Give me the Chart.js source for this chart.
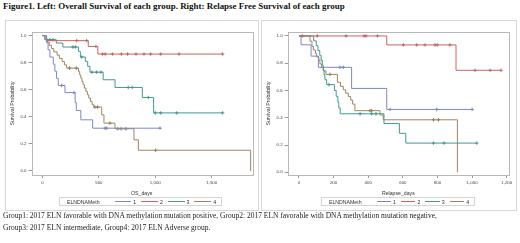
<!DOCTYPE html>
<html>
<head>
<meta charset="utf-8">
<script src="https://cdn.jsdelivr.net/npm/chart.js@4.4.1/dist/chart.umd.min.js"></script>
<style>
  body { margin: 0; background: #fff; }
  #wrap { position: relative; width: 520px; height: 243px; overflow: hidden; font-family: "Liberation Serif", "Times New Roman", serif; }
  #figTitle { position: absolute; left: 3px; top: 1px; font-weight: bold; font-size: 8.95px; white-space: nowrap; color: #111; }
  .panel { position: absolute; top: 20px; height: 191px; border: 1px solid #d8d8d8; box-sizing: border-box; }
  canvas { position: absolute; top: 20px; }
  .legend { position: absolute; top: 197px; height: 9px; border: 1px solid #d4d4d4; box-sizing: border-box;
            font-family: "Liberation Sans", Arial, sans-serif; font-size: 5.2px; color: #333; white-space: nowrap;
            display: flex; align-items: center; padding-left: 7px; }
  .legend .ttl { margin-right: 15px; }
  .legend .ln { display: inline-block; width: 17px; height: 1px; }
  .legend .nm { margin: 0 5px 0 2px; }
  .caption { position: absolute; left: 3px; font-size: 7.5px; white-space: nowrap; color: #222; }
</style>
</head>
<body>
<div id="wrap">
  <div id="figTitle">Figure1. Left: Overall Survival of each group. Right: Relapse Free Survival of each group</div>
  <div class="panel" style="left:5px;width:254px"></div>
  <div class="panel" style="left:261px;width:256px"></div>
  <canvas id="osChart" width="253" height="190" style="left:5px"></canvas>
  <canvas id="rfsChart" width="255" height="190" style="left:261px"></canvas>
  <div class="legend" id="osLegend" style="left:59px;width:163px"></div>
  <div class="legend" id="rfsLegend" style="left:321px;width:154px"></div>
  <div class="caption" style="top:211px">Group1: 2017 ELN favorable with DNA methylation mutation positive, Group2: 2017 ELN favorable with DNA methylation mutation negative,</div>
  <div class="caption" style="top:223px">Group3: 2017 ELN intermediate, Group4: 2017 ELN Adverse group.</div>
</div>
<script>
// tick labels
var osTicks = [0, 500, 1000, 1500];
var rfsTicks = [0, 200, 400, 600, 800, 1000, 1200];
var survTicks = [0, 0.2, 0.4, 0.6, 0.8, 1.0];
var groupNames = ['1', '2', '3', '4'];
var legendTitle = 'ELNDNAMeth';

// Overall survival: [days, survival] at each drop, plus censored days
var osG1 = [[0, 1], [37, 0.947], [50, 0.895], [66, 0.842], [96, 0.789], [110, 0.737], [125, 0.684], [140, 0.632], [200, 0.579], [290, 0.505], [300, 0.447], [340, 0.378], [445, 0.316]];
var osG1Cens = [170, 279, 554, 569, 1042];
var osG2 = [[0, 1], [35, 0.963], [406, 0.92], [491, 0.864]];
var osG2Cens = [304, 392, 474, 532, 556, 620, 699, 754, 829, 900, 959, 1048, 1210, 1597];
var osG3 = [[0, 1], [20, 0.97], [123, 0.945], [181, 0.916], [319, 0.884], [336, 0.842], [380, 0.81], [401, 0.773], [421, 0.73], [538, 0.674], [643, 0.617], [885, 0.543], [985, 0.429]];
var osG3Cens = [65, 94, 269, 292, 348, 439, 480, 518, 760, 795, 938, 1000, 1048, 1190, 1597];
var osG4 = [[0, 1], [30, 0.976], [45, 0.952], [60, 0.928], [80, 0.904], [100, 0.88], [130, 0.856], [150, 0.832], [175, 0.808], [195, 0.784], [215, 0.76], [320, 0.735], [330, 0.71], [340, 0.686], [350, 0.661], [360, 0.637], [372, 0.612], [385, 0.588], [398, 0.563], [410, 0.539], [425, 0.514], [440, 0.49], [455, 0.472], [525, 0.415], [545, 0.353], [643, 0.312], [811, 0.23], [850, 0.153], [1845, 0]];
var osG4Cens = [240, 300, 465, 489, 598, 668, 697, 740, 1003];

// Relapse free survival
var rfsG1 = [[0, 1], [12, 0.935], [70, 0.852], [112, 0.77], [304, 0.615], [507, 0.461]];
var rfsG1Cens = [237, 256, 526, 796, 1000];
var rfsG2 = [[0, 1], [507, 0.934], [907, 0.748]];
var rfsG2Cens = [19, 106, 272, 376, 387, 453, 603, 680, 728, 786, 799, 872, 1017, 1104, 1167];
var rfsG3 = [[0, 1], [85, 0.964], [100, 0.929], [110, 0.893], [120, 0.857], [128, 0.821], [135, 0.786], [140, 0.75], [145, 0.714], [150, 0.679], [160, 0.643], [205, 0.6], [215, 0.557], [225, 0.514], [230, 0.471], [238, 0.429], [491, 0.357], [580, 0.286], [617, 0.214]];
var rfsG3Cens = [173, 353, 420, 445, 777, 838, 1027];
var rfsG4 = [[0, 1], [64, 0.962], [75, 0.923], [83, 0.897], [95, 0.872], [102, 0.846], [115, 0.821], [121, 0.795], [131, 0.769], [141, 0.744], [156, 0.718], [222, 0.66], [240, 0.63], [256, 0.605], [270, 0.58], [285, 0.555], [299, 0.53], [310, 0.5], [323, 0.452], [468, 0.42], [487, 0.385], [915, 0]];
var rfsG4Cens = [179, 410, 420, 777, 805];

var lineColors = ['#7f88c4', '#c86462', '#3f9a8f', '#a08463'];
var markColors = ['#5a64a8', '#b04a48', '#2a7d72', '#6e5434'];

function survAt(steps, t) {
  var s = steps[0][1];
  for (var i = 0; i < steps.length; i++) {
    if (steps[i][0] <= t) s = steps[i][1];
  }
  return s;
}

function kmLine(steps, cens) {
  var pts = steps.map(function (p) { return {x: p[0], y: p[1]}; });
  var last = steps[steps.length - 1];
  var end = Math.max.apply(null, [last[0]].concat(cens));
  if (end > last[0]) pts.push({x: end, y: last[1]});
  return pts;
}

// grey frame round the plot area
var plotBox = {
  id: 'plotBox',
  afterDraw: function (chart) {
    var a = chart.chartArea, c = chart.ctx;
    c.save();
    c.strokeStyle = '#b8b8b8';
    c.lineWidth = 1;
    c.strokeRect(Math.round(a.left) + 0.5, Math.round(a.top) + 0.5, Math.round(a.right - a.left), Math.round(a.bottom - a.top));
    c.restore();
  }
};

function makeChart(id, groups, cens, xTicks, xMin, xMax, yMin, yMax, xTitle, padRight, yWidth) {
  var datasets = [];
  for (var i = 0; i < groups.length; i++) {
    datasets.push({
      type: 'line',
      label: groupNames[i],
      data: kmLine(groups[i], cens[i]),
      stepped: true,
      borderColor: lineColors[i],
      borderWidth: 1,
      pointRadius: 0,
      fill: false
    });
    datasets.push({
      type: 'scatter',
      label: groupNames[i] + ' censored',
      data: cens[i].map(function (t) { return {x: t, y: survAt(groups[i], t)}; }),
      pointStyle: 'cross',
      pointRadius: 1.7,
      borderColor: markColors[i],
      borderWidth: 0.8,
      showLine: false
    });
  }

  return new Chart(document.getElementById(id), {
    type: 'scatter',
    data: {datasets: datasets},
    options: {
      responsive: false,
      animation: false,
      devicePixelRatio: 1,
      layout: {padding: {left: 0, right: padRight, top: 12, bottom: 13}},
      plugins: {legend: {display: false}, tooltip: {enabled: false}},
      scales: {
        x: {
          type: 'linear',
          min: xMin,
          max: xMax,
          afterBuildTicks: function (s) { s.ticks = xTicks.map(function (v) { return {value: v}; }); },
          afterFit: function (s) { s.height = 22; },
          grid: {drawOnChartArea: false, drawTicks: true, tickLength: 3, color: '#999'},
          border: {display: false},
          ticks: {font: {size: 4.4, family: 'Liberation Sans'}, color: '#444', padding: 2, maxRotation: 0},
          title: {display: true, text: xTitle, font: {size: 5.2, family: 'Liberation Sans'}, color: '#333', padding: {top: 2, bottom: 0}}
        },
        y: {
          type: 'linear',
          min: yMin,
          max: yMax,
          afterBuildTicks: function (s) { s.ticks = survTicks.map(function (v) { return {value: v}; }); },
          afterFit: function (s) { s.width = yWidth; },
          grid: {drawOnChartArea: false, drawTicks: true, tickLength: 3, color: '#999'},
          border: {display: false},
          ticks: {font: {size: 4.4, family: 'Liberation Sans'}, color: '#444', padding: 2, callback: function (v) { return v.toFixed(1); }},
          title: {display: true, text: 'Survival Probability', font: {size: 5.2, family: 'Liberation Sans'}, color: '#333', padding: {top: 4, bottom: 0}}
        }
      }
    },
    plugins: [plotBox]
  });
}

function buildLegend(id) {
  var el = document.getElementById(id);
  var html = '<span class="ttl">' + legendTitle + '</span>';
  for (var i = 0; i < groupNames.length; i++) {
    html += '<span class="ln" style="background:' + lineColors[i] + '"></span><span class="nm">' + groupNames[i] + '</span>';
  }
  el.innerHTML = html;
}

makeChart('osChart', [osG1, osG2, osG3, osG4], [osG1Cens, osG2Cens, osG3Cens, osG4Cens],
  osTicks, -97, 1857, -0.03, 1.027, 'OS_days', 6, 26.5);
makeChart('rfsChart', [rfsG1, rfsG2, rfsG3, rfsG4], [rfsG1Cens, rfsG2Cens, rfsG3Cens, rfsG4Cens],
  rfsTicks, -65, 1213, -0.02, 1.029, 'Relapse_days', 7, 26.7);
buildLegend('osLegend');
buildLegend('rfsLegend');
</script>
</body>
</html>
